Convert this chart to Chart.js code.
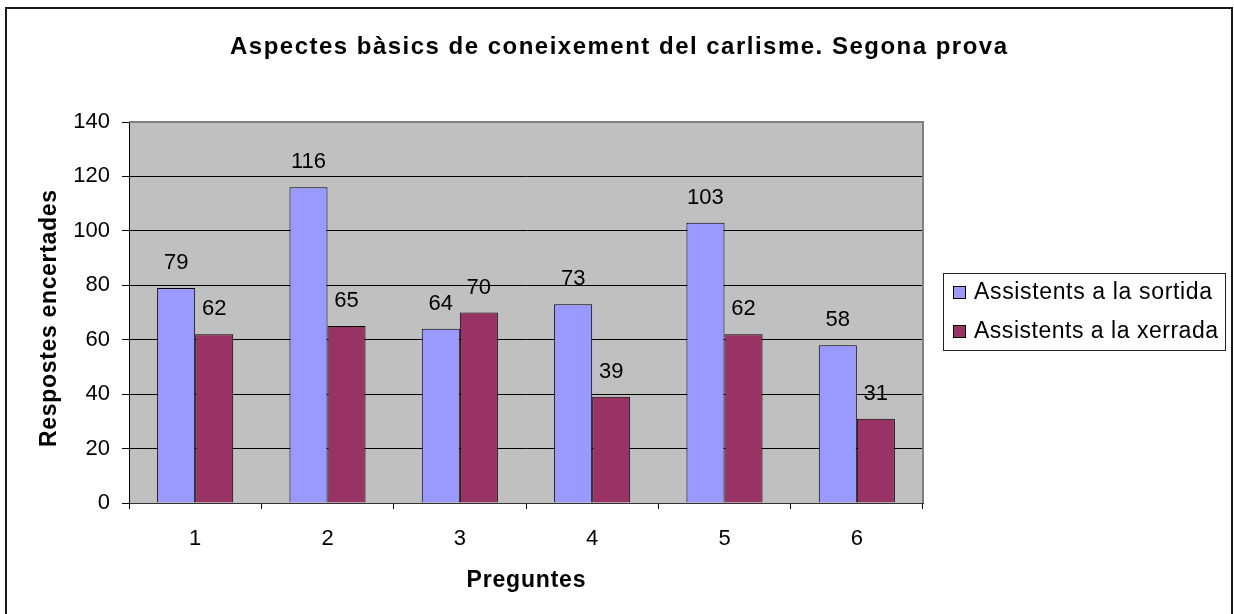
<!DOCTYPE html>
<html>
<head>
<meta charset="utf-8">
<script src="https://cdn.jsdelivr.net/npm/chart.js@4.4.0/dist/chart.umd.min.js"></script>
<style>
html,body{margin:0;padding:0;background:#fff;overflow:hidden;}
#wrap{position:relative;width:1234px;height:614px;}
#frame{position:absolute;left:5px;top:7px;width:1228px;height:650px;border:2px solid #1a1a1a;box-sizing:border-box;pointer-events:none;}
canvas{position:absolute;left:0;top:0;}
</style>
</head>
<body>
<div id="wrap"><canvas id="chart" width="1234" height="614"></canvas><div id="frame"></div></div>
<script>
const categories = ['1','2','3','4','5','6'];
const sortida = [79, 116, 64, 73, 103, 58];
const xerrada = [62, 65, 70, 39, 62, 31];
const seriesNames = ['Assistents a la sortida', 'Assistents a la xerrada'];
const seriesColors = ['#9999FF', '#993366'];
const chartTitle = 'Aspectes bàsics de coneixement del carlisme. Segona prova';
const xTitle = 'Preguntes';
const yTitle = 'Respostes encertades';

const FONT = "'Liberation Sans', Arial, sans-serif";

// draw text stretched to a given width (old Excel-ish spacing)
function spacedText(ctx, text, x, y, width){
  ctx.letterSpacing = '0px';
  const natural = ctx.measureText(text).width;
  const sp = (width - natural) / (text.length - 1);
  ctx.letterSpacing = sp + 'px';
  ctx.textAlign = 'left';
  ctx.fillText(text, x - width/2, y);
  ctx.letterSpacing = '0px';
}

const plotBack = {
  id:'plotBack',
  beforeDraw(chart){
    const {ctx, chartArea:a} = chart;
    ctx.save(); ctx.fillStyle='#C0C0C0';
    ctx.fillRect(a.left, a.top, a.right-a.left, a.bottom-a.top);
    ctx.restore();
  },
  beforeDatasetsDraw(chart){
    const {ctx, chartArea:a} = chart;
    ctx.save(); ctx.strokeStyle='#808080'; ctx.lineWidth=2;
    ctx.beginPath();
    ctx.moveTo(a.left, a.top); ctx.lineTo(a.right, a.top); ctx.lineTo(a.right, a.bottom);
    ctx.stroke(); ctx.restore();
  }
};

const valueLabels = {
  id:'valueLabels',
  afterDatasetsDraw(chart){
    const ctx = chart.ctx;
    ctx.save();
    ctx.font = '22px ' + FONT; ctx.fillStyle='#000';
    ctx.textAlign='center'; ctx.textBaseline='alphabetic';
    chart.data.datasets.forEach((ds,i)=>{
      chart.getDatasetMeta(i).data.forEach((bar,j)=>{
        ctx.fillText(ds.data[j], bar.x, bar.y - 19);
      });
    });
    ctx.restore();
  }
};

const titles = {
  id:'titles',
  afterDraw(chart){
    const ctx = chart.ctx, a = chart.chartArea;
    ctx.save(); ctx.fillStyle='#000'; ctx.textBaseline='alphabetic';
    ctx.font = 'bold 24px ' + FONT;
    spacedText(ctx, chartTitle, 618.5, 53.5, 777);
    ctx.font = 'bold 23px ' + FONT;
    spacedText(ctx, xTitle, (a.left + a.right)/2, 587, 119);
    ctx.translate(56, 318.5); ctx.rotate(-Math.PI/2);
    spacedText(ctx, yTitle, 0, 0, 257);
    ctx.restore();
  }
};

const boxLegend = {
  id:'boxLegend',
  afterDraw(chart){
    const ctx = chart.ctx;
    const widths = [238, 244];
    ctx.save();
    ctx.strokeStyle='#222'; ctx.lineWidth=1;
    ctx.strokeRect(943.5, 273.5, 282, 77);
    ctx.font = '23px ' + FONT; ctx.textBaseline='alphabetic';
    chart.data.datasets.forEach((ds,i)=>{
      const y = 291 + i*39;
      ctx.fillStyle = ds.backgroundColor;
      ctx.fillRect(953, y-5, 13, 13);
      ctx.strokeStyle='#000';
      ctx.strokeRect(953.5, y-4.5, 12, 12);
      ctx.fillStyle='#000';
      spacedText(ctx, ds.label, 974 + widths[i]/2, y + 8, widths[i]);
    });
    ctx.restore();
  }
};

new Chart(document.getElementById('chart'), {
  type:'bar',
  data:{
    labels: categories,
    datasets:[
      {label:seriesNames[0], data:sortida, backgroundColor:seriesColors[0], borderColor:'#000', borderWidth:1, categoryPercentage:0.575, barPercentage:1},
      {label:seriesNames[1], data:xerrada, backgroundColor:seriesColors[1], borderColor:'#000', borderWidth:1, categoryPercentage:0.575, barPercentage:1}
    ]
  },
  options:{
    responsive:false, animation:false, devicePixelRatio:1,
    layout:{padding:{left:0, right:311, top:122, bottom:0}},
    plugins:{
      legend:{display:false},
      tooltip:{enabled:false},
      title:{display:false}
    },
    scales:{
      x:{
        afterFit(s){ s.height = 111; },
        grid:{offset:true, drawOnChartArea:false, drawTicks:true, tickLength:6, color:'#000'},
        border:{display:true, color:'#333', width:1},
        ticks:{color:'#000', font:{family:FONT, size:22}, padding:17, maxRotation:0}
      },
      y:{
        min:0, max:140,
        afterFit(s){ s.width = 129; },
        grid:{color:'#000', tickLength:7, lineWidth:1},
        border:{display:true, color:'#000', width:1},
        ticks:{stepSize:20, color:'#000', font:{family:FONT, size:22}, padding:12}
      }
    }
  },
  plugins:[plotBack, valueLabels, titles, boxLegend]
});
</script>
</body>
</html>
